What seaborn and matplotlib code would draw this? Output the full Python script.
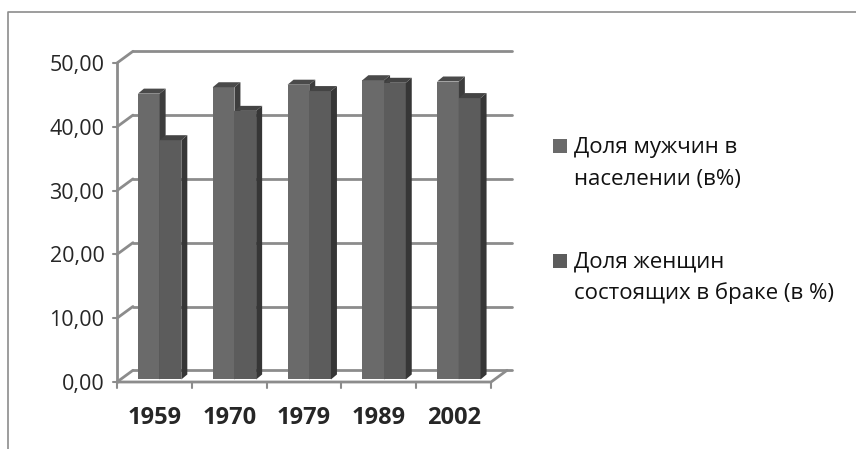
import matplotlib
matplotlib.use("Agg")
import matplotlib.pyplot as plt
import seaborn as sns
import pandas as pd
from matplotlib.patches import Polygon, Rectangle

years = ["1959", "1970", "1979", "1989", "2002"]
men_share = [44.8, 45.8, 46.2, 46.9, 46.7]
married_women = [37.5, 42.1, 45.2, 46.5, 44.1]
series = ["Доля мужчин в\nнаселении (в%)", "Доля женщин\nсостоящих в браке (в %)"]
yticks = [0, 10, 20, 30, 40, 50]

df = pd.DataFrame({
    "year": years * 2,
    "value": men_share + married_women,
    "series": [series[0]] * len(years) + [series[1]] * len(years),
})

sns.set_style("white")
plt.rcParams["font.family"] = ["Open Sans", "DejaVu Sans"]

W, H = 856, 449
fig = plt.figure(figsize=(W / 100, H / 100), dpi=100)
ax = fig.add_axes([117 / W, (H - 382) / H, (512 - 117) / W, (382 - 48) / H])

front = ["#6a6a6a", "#5c5c5c"]
sides = ["#3d3d3d", "#363636"]
tops = ["#4a4a4a", "#444444"]
grid = "#8c8c8c"

sns.barplot(data=df, x="year", y="value", hue="series", palette=front,
            width=0.58, saturation=1, ax=ax, legend=False, zorder=3,
            linewidth=0, edgecolor="none")

xmax = 4.5 + 21 / 75
ax.set_xlim(-0.5, xmax)
ax.set_ylim(0, (382 - 48) / 6.38)

# depth of the back wall and of each bar (data units)
bx, by = 16 / 75, 11.7 / 6.38
dx, dy = 6 / 75, 5 / 6.38

for i, cont in enumerate(ax.containers):
    for bar in cont:
        bar.set_x(bar.get_x() + 0.07)
        bar.set_y(0.4)
        bar.set_zorder(3 + i)
        x0 = bar.get_x()
        x1 = x0 + bar.get_width()
        y1 = bar.get_y() + bar.get_height()
        y0 = bar.get_y()
        ax.add_patch(Polygon([(x1, y0), (x1 + dx, y0 + dy), (x1 + dx, y1 + dy), (x1, y1)],
                             closed=True, fc=sides[i], ec="none", zorder=3 + i))
        ax.add_patch(Polygon([(x0, y1), (x0 + dx, y1 + dy), (x1 + dx, y1 + dy), (x1, y1)],
                             closed=True, fc=tops[i], ec="none", zorder=3 + i))

# back wall gridlines and left wall
for t in yticks:
    ax.plot([-0.5 + bx, xmax], [t + by, t + by], color=grid, lw=2, zorder=1, clip_on=False)
    ax.plot([-0.5, -0.5 + bx], [t, t + by], color=grid, lw=2, zorder=1, clip_on=False)
    ax.plot([-0.5 - 0.05, -0.5], [t, t], color=grid, lw=1.5, zorder=1, clip_on=False)
ax.plot([-0.5, -0.5], [0, 50], color=grid, lw=2, zorder=2, clip_on=False)

# floor
ax.plot([-0.5, 4.5, 4.5 + bx], [0, 0, by], color=grid, lw=2, zorder=2, clip_on=False)
for k in range(len(years) + 1):
    ax.plot([k - 0.5, k - 0.5], [0, -0.9], color=grid, lw=1.5, zorder=2, clip_on=False)

for s in ax.spines.values():
    s.set_visible(False)
ax.set_yticks(yticks)
ax.set_yticklabels([f"{t:.2f}".replace(".", ",") for t in yticks], fontsize=15.5)
ax.set_xticks(range(len(years)))
ax.set_xticklabels(years, fontsize=17, fontweight="bold")
ax.tick_params(axis="y", length=0, pad=9)
ax.tick_params(axis="x", length=0, pad=17)
ax.set_xlabel("")
ax.set_ylabel("")

# legend: square aligned with the first line of each label
legend_y = [146, 261]
for lab, col, yc in zip(series, front, legend_y):
    fig.add_artist(Rectangle((553 / W, 1 - (yc + 7) / H), 14 / W, 14 / H,
                             transform=fig.transFigure, fc=col, ec="none"))
    for j, line in enumerate(lab.split("\n")):
        fig.text(574 / W, 1 - (yc + 7 + j * 31.5) / H, line, fontsize=16,
                 va="baseline", ha="left", color="#111111")

# chart area border
fig.add_artist(plt.Line2D([8 / W, 8 / W, 1], [0, 1 - 12 / H, 1 - 12 / H],
                          transform=fig.transFigure, color="#8c8c8c", lw=1.2))

fig.savefig("out.png", dpi=100)
